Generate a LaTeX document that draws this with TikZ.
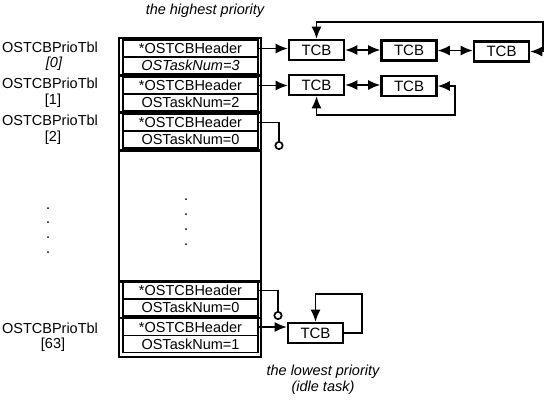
\documentclass[tikz,border=0pt]{standalone}
\usepackage{fontspec}
\setmainfont{Liberation Sans}
\usetikzlibrary{arrows.meta}
\begin{document}
\begin{tikzpicture}[x=1pt,y=-1pt,
  txt/.style={font=\fontsize{14.5}{16}\selectfont, inner sep=0pt},
  itxt/.style={font=\fontsize{14.5}{16}\selectfont\itshape, inner sep=0pt},
  cell/.style={draw, line width=1.2pt, minimum width=135pt, minimum height=17pt, inner sep=0pt, font=\fontsize{14.5}{16}\selectfont},
  tcb/.style={draw, line width=2.6pt, minimum width=55pt, minimum height=20pt, inner sep=0pt, font=\fontsize{15}{16}\selectfont},
  conn/.style={line width=1.5pt, -{Latex[length=12pt,width=10pt]}},
  dconn/.style={line width=1.5pt, {Latex[length=12pt,width=10pt]}-{Latex[length=12pt,width=10pt]}},
  nullp/.style={line width=1.3pt, -{Circle[open,length=9pt,width=9pt,line width=1.7pt]}},
  thick sep/.style={line width=2.6pt}
]
\useasboundingbox (0,0) rectangle (551,400);
% outer table
\draw[line width=2.8pt] (119,38) rectangle (261,357);
\foreach \yy in {75.5,112.5,150.5,281.5,318} \draw[thick sep] (119,\yy) -- (261,\yy);
% cells
\node[cell] (h0) at (190.5,48.5) {*OSTCBHeader};
\node[cell] (n0) at (190.5,65.5) {\itshape OSTaskNum=3};
\node[cell] (h1) at (190.5,85.5) {*OSTCBHeader};
\node[cell] (n1) at (190.5,102.5) {OSTaskNum=2};
\node[cell] (h2) at (190.5,122.5) {*OSTCBHeader};
\node[cell] (n2) at (190.5,139.5) {OSTaskNum=0};
\node[cell] (h62) at (190.5,290.5) {*OSTCBHeader};
\node[cell] (n62) at (190.5,307.5) {OSTaskNum=0};
\node[cell] (h63) at (190.5,327) {*OSTCBHeader};
\node[cell] (n63) at (190.5,344) {OSTaskNum=1};
% middle dots
\foreach \yy in {199,214,229,244} \fill (186,\yy) circle (1pt);
% left labels
\node[txt] (l0) at (50,47) {OSTCBPrioTbl};
\node[itxt] (i0) at (54,64) {[0]};
\node[txt] (l1) at (50,83) {OSTCBPrioTbl};
\node[txt] (i1) at (53,101) {[1]};
\node[txt] (l2) at (50,120) {OSTCBPrioTbl};
\node[txt] (i2) at (53,138) {[2]};
\node[txt] (l63) at (50,328) {OSTCBPrioTbl};
\node[txt] (i63) at (53,345) {[63]};
\foreach \yy in {208,222,237,252} \fill (48,\yy) circle (1pt);
% captions
\node[itxt] (top) at (205,11) {the highest priority};
\node[itxt] (bot1) at (323,372) {the lowest priority};
\node[itxt] (bot2) at (323,388) {(idle task)};
% TCBs
\node[tcb] (t00) at (316.5,50) {TCB};
\node[tcb] (t01) at (409,50.5) {TCB};
\node[tcb] (t02) at (501.5,51.5) {TCB};
\node[tcb] (t10) at (316.5,85) {TCB};
\node[tcb] (t11) at (409,86) {TCB};
\node[tcb] (t63) at (315.5,333) {TCB};
\coordinate (c0) at (543,22);
\coordinate (c1) at (455,115);
\coordinate (c63) at (362,294);
\coordinate (z2) at (279,150);
\coordinate (z62) at (278,320);
% connectors
\draw[conn] (h0.east) -- (h0.east -| t00.west);
\draw[dconn] (t00.east) -- (t00.east -| t01.west);
\draw[dconn] (t01.east) -- (t01.east -| t02.west);
\draw[dconn] (t00.north) |- (c0) |- (t02.east);
\draw[conn] (h1.east) -- (h1.east -| t10.west);
\draw[dconn] (t10.east) -- (t10.east -| t11.west);
\draw[dconn] (t10.south) |- (c1) |- (t11.east);
\draw[nullp] (h2.east) -| (z2);
\draw[nullp] (h62.east) -| (z62);
\draw[conn] (h63.east) -- (h63.east -| t63.west);
\draw[conn] (t63.east) -| (c63) -| (t63.north);
\end{tikzpicture}
\end{document}
